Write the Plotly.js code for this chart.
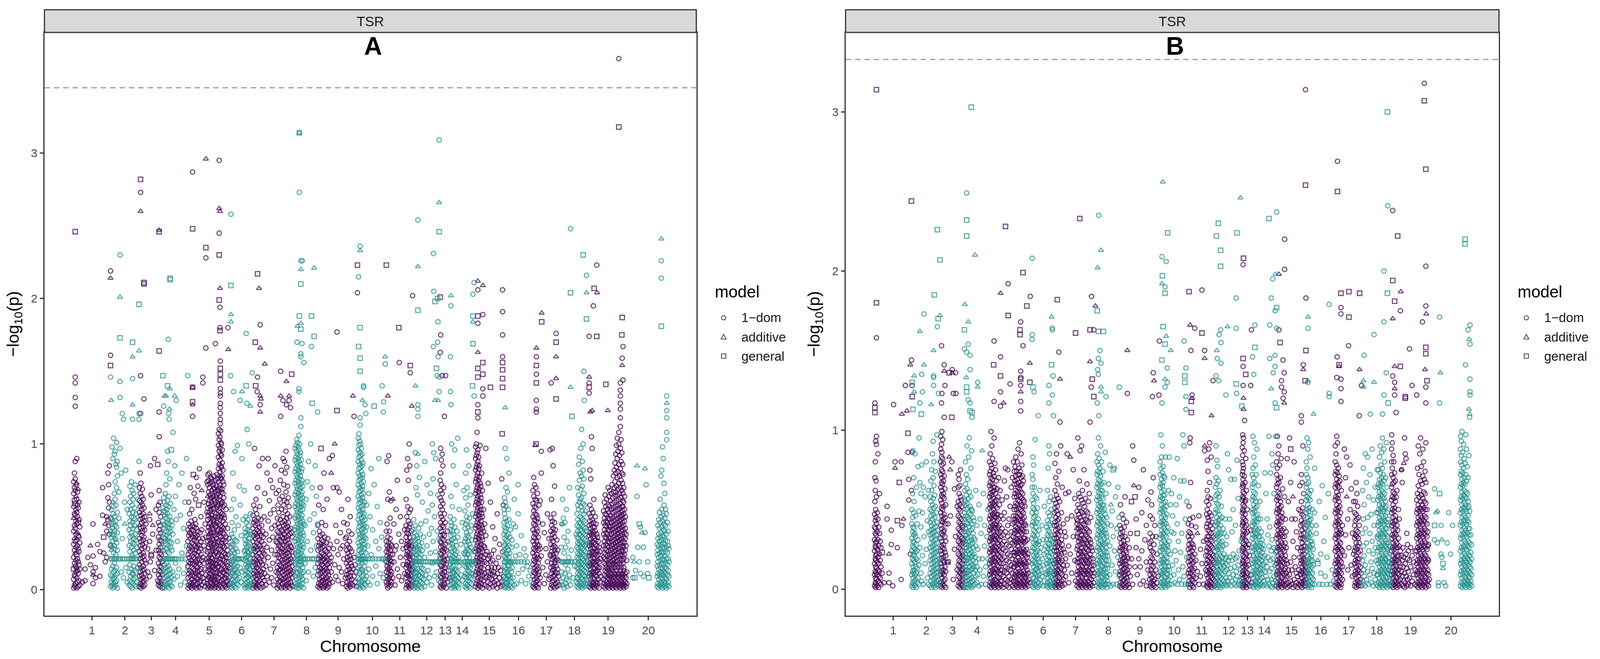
<!DOCTYPE html>
<html><head><meta charset="utf-8">
<script src="https://cdn.plot.ly/plotly-3.0.1.min.js"></script>
<style>html,body{margin:0;padding:0;background:#fff;overflow:hidden}</style>
</head><body><div id="chart"></div>
<script>
// ---------- data ----------
const chromosomes = ['1','2','3','4','5','6','7','8','9','10','11','12','13','14','15','16','17','18','19','20'];
// chromosome lengths (cumulative-position units)
const chromLengths = [98,76,62,66,112,58,112,60,106,74,70,72,26,64,78,76,70,78,100,112];
const modelKeys = ['o','t','s'];
const modelNames = {o:'1\u2212dom', t:'additive', s:'general'};
const legendTitle = 'model';
const panelTitles = ['A','B'];
const stripLabel = 'TSR';
const thresholdA = 3.45;
const thresholdB = 3.33;
// Each string: one chromosome. Groups "pos:tokens"; token = model letter (o=1-dom, t=additive, s=general) + -log10(p)*100
const snpA = [
"1:o01o07s14o22o31o40t49o57o66o74 3:o03o10o18o27t35o44o52s61o70o80 5:s246o146o142o132o126o02o09o16t25o33o42o51s59o68o76o88 7:o04o12o20o29o38o47o55t64o72 9:o01o08o15s24o34o45o53o62t73o90 11:o05o13o21o30t39o50o58o67 13:o02o11o19o28o37s46o56t69 15:o06o17o26o36o48o60 17:o03o14o32o43 24:o05 31:o06o14 38:o22 45:t30o17 52:o45o23o12t10o04 58:o15o08 64:o31 70:o26o09 77:o70o51 80:s36o25 84:t45o19 88:o50o22o40 91:o80o63o48 93:o72o56o44 95:o60o38o85 98:o219t214o161s154o49o30",
"0:o02o10o21o31o40o146 2:o05o14t27o36o45o55t130 4:o03o09o21o29s38o48o98 6:o01o07o16o33o42o52t60o90 8:o04o12o21o25o37o46o57o104 10:o02o08o18o30s40o50o66o93 12:o05o13o21o28o35o44o62o74o95 14:o03o10o24t34o47o58o86 16:o06o15o21o32o43o70o84o101 18:o01o11o27o39o53o88o78 22:o21o49o67 25:o230t201s173o143o132o97o21 28:o12o80 31:o121o21o35 34:o117o08 37:t45o21o60 40:o82o15 44:o21o05o55 49:o03o12o21o30o41o52 51:o06o17o26o36o47o60o71 53:o02o09o21o33s44o55o64 55:o05o14o29o39o50o74 57:o01o11o21t24o37o46o58o68 58:s170o145t160t127o117 59:o04o10o32o42o53o62 61:o07o16o21o27o35s49o66 63:o03o13o31o44o56 65:o08o21o25o38o48o72 67:o02o12o34o52 69:o05o21o29o41 72:o15o62 75:s196t164o121o117o88",
"0:o02o09o17o26o35t44o53o61o70 2:o04o12o21o30t39o48o57o66o80 3:s282o273t260o147o121 4:o01o07o15o24o33s42o51o60o73 6:o03o10o19o28o37o46o55o64 8:o05o13o22o31s40o49o58o69 10:o02o08o16o25o34o43o52o62 12:s211s210o131o06o14o23o36o47o56 14:o03o11o20o29o41o50 17:o07o18o32o45 22:o12o28 27:t52o48o33o09 29:o85o19 31:s24s23o65 35:o38t44 40:o90o13 44:o27o55 48:s86o06 50:o03o10o18o27o36o46o58 52:t247s246s164o122o05o13o22o31o41o53o68o105 54:o02o08o16o25o34o44o60 56:o04o12o21o29o39o50 58:o06o15o24o33 60:o01o10o19",
"0:s147o02o11o20o29o38o47o56 2:o126o05o14o21t27o36o45o54o63 4:t133o01o08o17o33o42o51o60 6:o03o12o21o24o35o44s53o66 8:t133o06o15o31o40o49o58o72 10:o02o09o18o21o28o37o46o55o80 12:s140o04o13o26t34o43o52o61o95 14:o172o07o16o21o30o39o48o57o88 15:o121 16:o117o01o10o25o36o45o64 17:t124 18:t138o05o14o21o33o42o50o76 19:s214s213 20:o03o11o29o40o59 22:o08o21o32o47s96 24:o02o27o44 26:o12o21o38o108 29:o07o55 31:t133o21o85 33:o18o64 35:o130o21o48 38:o09o33 42:o21o72o14 46:o51o03 50:o21o25o80 54:o11o42 58:o21o60o05 62:o30o90 65:o147o15",
"0:o01o08o16o24o33o41 2:o03o11o19o28o37o45o60 4:o05o13o22o30o39o52 6:o02o09o18o26o35o43o70 8:o04o12o20o29o38o47 10:o01o07o15o23o32o41o55 12:o287s248t139s139s129t127o119o03o10o18o27o36o44 14:o05o14o22o31o40s79 16:o02o09o17o25o34o43o66 18:o06o13o21o30o38o48 20:o03o11o19o27o36o45o62 22:o01o08o16o24o33o42o77 24:o04o12o20o29o37 26:o07o15o23o31o40o71 28:o02o10o18o26o35s58 30:o05o13o21o30o83 32:o01o09o17o28o39 34:o06o14o24o33o50 36:o03o11o20o41t68 39:o146o142o08o22o35 42:o05o18o30o60 45:o02o14o27o45 47:t296s235o228o166o10o36 50:o04o21o53o74 52:o01o07o13o19s26o33o40o48o56t64o72o79 54:o03o09o16o22o29o36o43s51o59o67o75 56:o02o08o14o20o31t38o45o53o61o70o80 58:o05o11o17o24o34o41o49o57o65o73 60:o01o07o13o19s26o32o39o46o55o63o77 62:o04o10o16o22o30o37t44o51o60o68o76 64:o02o08o15o21o28o35o42o49o58o66o74 66:o06o12o18o27o34o41o48o56o64o72 68:o03o09o16o24o31o39o47o55o62o70o78 70:o01o07o14o20o29o37o45o53o61o69 72:o169o05o11o18o26o33o43o50o59o67o75 74:o02o09o17o25o35o44o52o63o71 76:o04o12o20o30o38o46o57o65o79 78:o06o15o23o32o40o49o58o68o76 80:o01o08o16o24o33o41o50o58o66o74o83o91o99o107 82:o295t262o245s230s199o03o11o19o28o37o45o54o62o70o78o86o95o103o110 84:t260t207o194o180s178o05o13o21o30o39o48o56o64o72o81o89o97o105 85:s152s148s144o157o138o135o133o128o125o121o117o114 86:o02o10o18o27o36o44o53o61o69o77o85o93o101o109 88:o06o14o23o32o41o50o59o67o76o84o92o100 90:o01o09o17o26o34o43o52o60o69o78o87o96 92:o04o12o21o30o39o47o57o66o74o82 94:o07o16o25o34o42o51o63o72 96:o03o11o20o29o38o49o58 98:o02o08o15o24o33o45 100:o05o13o22o36o55 102:o01o10o19o30 104:o06o16o27o42 105:o180 106:t165o03o12o24 108:o08o19o35 110:o04o15",
"0:o147o02o09o17o25o33 1:o258s209t189t184 2:o04o12o20o29o38o55 4:o01o07o15o23o31o46 6:o03o11o19o27o36o80 8:o136o05o13o21o30o62 10:o02o09o17o25o41 12:o06o14o22o34o95 14:o01o10o18o28o50 16:o04o12o21o33 18:o07o16o26o99 20:o03o11o21o44 23:o08o21o71 25:o130o15o58 28:o05o21o37 30:t136o90o12 33:o21o48 36:o03o26o68 38:o01o07o13o20o27o34o42 40:o04o10o17o24o31o39o50 41:s140o176 42:o02o08o15o22o29o37o46 43:o128 44:o05o12o19o26o33o41o110 46:o01o09o16o23o30o38o48 48:o03o11o18o25o35o44o100 50:o06o14o21o32o40 52:t126o02o10o19o28o52 54:o07o17o27o38 56:o04o13o24 57:o149",
"1:o01o08o16o24o33o42o51 3:o03o11o19o28o37o46o58 5:o05o13o21o30o39o48o97 7:s170o02o09o17o26o35o44o55 8:s140 9:o04o12o20o29o38o47o62 11:o01o07o15o23o32o41o52 12:o136 13:s217o146o03o10o18o27o36o45o70 15:o05o14o22o31o40o49 17:t207o02o09o17o25o34o43o85 19:o06o13o21o30o39o57 20:o182t166t133o127t122 22:t131o01o10o19o28o37o48 24:o04o12o23o33o44 26:o08o17o27o40o90 28:o02o14o25o36 30:o06o20o31o50 32:t155o11o24o66 35:o03o16o38 38:o09o29o80 41:o22o47o90 44:o05o34o61 47:o14o52o75 50:o27o08o42 53:o18o70o36 56:o03o55 59:o24o44o85 62:o12o33o66 65:o01o07o15o24o32o40o49 67:o03o11o19o28o36o45o58 69:o05o13o22o30o39o53o68 71:o02o09o17o26o34o43o62 73:o06o14o21o29o37o48o75 74:o150t133o119 76:o01o08o16o25o33o41o55o82 78:o04o12o20o28o36o46o64 80:o130o07o15o23o31o40o50o90 82:o02o10o18o26o35o44o58o72 84:o05o13o21o30o38o47o61o88 86:o01o08o16o24o33o42o54o80 88:o03o11o19o27o36o45o67o95 89:t143o127 90:o06o14o22o31o40o49o60o84 92:o02o09o17o25o34o43o52o71 94:o04o12o20o28o37o46o63 96:t133o130o07o15o23o32o41o57 98:o01o10o18o27o38o50 100:o05o13o21o30o42o125 102:o03o11o19o29o39 103:s148 104:o08o16o26o36 106:o02o12o23",
"0:o02o09o17o25o33o41o49o57o65o73o81o89o97 2:o04o11o19o21o27o35o43o51o59o67o75o83o91o99 4:o01o07o15o23o31o39o47o55o63o71o79o87o95o103 5:o170 6:t181o03o12o20o29o37o45o53o61o69o77o85o93o101 8:o05o14o21o26o34o42o50o58o66o74o82o90o98 10:o138o136o01o08o17o24o32o40o48o56o64o72o80o88o96o106 11:t314s314o273s188 12:o03o10o19o28o36o44o52o60o68o76o84o92o100 14:o06o13o22o30o38o46o54o62o70o78o86o94 15:o226t220s210s179o162o160t183o118o112 16:o02o09o17o21o25o33o41o49o57o65o73o81o89 18:o169o04o11o19o27o35o43o51o59o67o75o83 19:o226 20:o07o15o23o31o39o47o55o63o71 22:o01o12o21o29o37o45o58 23:o156 26:o21o18o44 29:o06o62 32:o21o74o33 35:o88o12 38:o21o48 41:o100o27 43:s188o167 45:s128o21o70 48:o39o09 50:t221s174o21o52 53:o85o15 56:o21o30o64 59:o122o45",
"0:o02o10o18o27o35o44 2:o04o13o21o30o58 4:o01o07o15o23o32o40 6:o03o11o19o28o37o70 8:o05o14o22o31s97 10:o02o08o17o25o34o46 12:o06o12o20o29o38 14:o01o09o16o24o33o55 16:o04o13o21o30o80 18:o02o07o15o23o36 20:o05o11o19o27o44 22:o03o14o22o32 24:o01o08o17o26o62 26:o06o12o20o35 28:o02o10o18o28 30:o04o15o24o90 32:o07o19o31 35:o22t80o12 38:o92o05 41:o70o28 44:o17t100 47:o09o44 50:o177s123o33o70 53:o24o06 56:o67o15 59:o39o28 62:o12o55 65:o30o04 68:o21o46 72:o08o35 75:o02o10o18o27o36 77:o05o13o22o31o45 79:o01o08o16o25o62 81:o03o11o20o29o40 83:o06o14o23o33 85:o02o09o18o28o50 87:o04o12o21 89:o07o16o26o38 92:t133o03o14 95:o119o09o22 98:o05o17 101:o02o12 104:s223o204",
"0:o02o08o15o21o24o32o40o48o56o64o72o80o88o96o104 1:o215s167 2:o04o11o19o27o35o43o51o59o67o75o83o91o99o107 4:o01o07o16o21o23o30o38o46o54o62o70o78o86o94o102 5:o236t233s180s159s150o118o113 6:o03o12o20o28o36o44o52o60o68o76o84o92o100 8:o05o14o21o25o33o41o49o57o65o73o81o89o97 10:o02o09o18o29o37o45o53o61o69o77o85o93 11:t130 12:o06o13o21o23o31o39o47o55o63o71o79o87 14:o140o139o01o10o26o34o42o50o58o66o74 16:o04o16o21o28o36o44o52o60 18:o127o07o19o31o40o48 20:o121o03o21o12o25o35 22:o09o43o58 25:o21o05o30 28:o14o66 31:o21o50o03 34:o24o83 38:o21o09o41 42:s126o72 46:o21o33o16 50:o57o04 54:o21o28o90 58:o11o46 62:o21o36 63:o140 66:o122o08 67:o129o21 71:t160o155o20",
"0:s223o05o12o19o26o33o40 2:o03o09o16o23o30o45o88 4:t133o01o07o14o21o28o36o62 6:o04o11o18o25o32o92 8:o02o08o15o22o29o40o67 10:o06o13o20o27o35o49 12:o03o10o17o24o31o61 14:o05o12o19o30 17:t62o08o24 20:o45o19 23:o27o03 26:o30o55 29:o14o75 33:s180o09o38 34:o156 37:o22o50 40:o06o33 44:o17o28 48:o41o11 52:o01o08o15o22o29o36o44o62 54:o03o10o17o24o31o39o50o82 56:o05o12o19o26o33o41o57o90 58:o02o09o16o23o30o38o47o75 60:o04o11o18o25o32o43o53o100 62:o01o07o14o21o28o36o45o85 63:o149s154 64:o03o10o17o24o33o55 66:o06o13o20o29o40 67:t126o02o09o18o30 69:o202o05o14o22",
"0:o03o10o18o25o33o41 2:o06o13o19o28o36o48 4:o01o08o15o22o30o39 6:o04o11o19o26o34o44o94 7:t140 8:o02o09o17o24o31o70 10:o05o12o19o21o29o37o85 12:o01o07o14o27o35o65 13:o254t222s192o127o124o119t93 15:o03o10o19o25o33o42 17:o06o13o22o30o77 19:o02o09o17o19o28o38 21:o05o12o24o45 23:o01o08o15o19o32 25:o04o11o27o60 28:o07o19o14o36 31:o02o22o88 34:o10o19o47 37:o05o30o72 40:o19o13o54 43:o08o38 46:o19o25o66 49:o03o42 51:o19o18o58o100 53:o33o76 54:o231o167 55:o205o94 57:o19o09o50 58:t130s198 60:o26o90 62:s152o19o12 64:o147o40 65:s200o170 66:o184o160t130o19o65 68:o06 69:o309t266s246o136o35 70:o146o19o22",
"0:s201o163o02o09o17o25o33o42o52o63o75 1:o175o05o13o21o29o37o46o57o68o80o97 3:o01o08o16o24o32o40o50o61o72o89 5:o147o03o11o19o27o35o44o55o66o93 7:o06o14o22o30o38o48o59o85 9:o02o10o18o26o34o43o70 11:o04o12o20o28o37o52o119 13:o07o15o23o31o46 14:o147 16:o01o09o17o27 19:o05o21o40 22:o13o33 25:o08",
"0:o03o10o17o24o32o41o50 1:o160o136 2:t202o195o127o06o13o19o21o28o37o46o64 4:o01o08o15o26o34o44o100 6:o04o11o19o23o31o40o57 8:o02o09o16o29o38o85 10:o05o12o19o22o35o48 12:o01o07o14o27o43o96 14:o03o10o19o24o33 16:o06o13o21o30o72 18:o02o09o19o26o40 20:o05o12o36o104 22:o01o08o19o22 24:o04o16o55 28:o19o10o31 32:o46o06 36:o19o25o68 39:o02o09o16o24o33o42o54 41:o04o11o19o26o35o45o63o80 43:o01o08o15o22o30o39o50o96 45:o03o10o17o19o28o37o47o70 47:o06o13o24o33o43o58 49:o02o09o16o19o27o36o85 51:o05o12o22o31o49 53:o01o08o15o19o26o40o65 55:o04o11o29o44 57:o07o19o17o34 59:s140o52 60:s188t184s169o203o19o11 62:o26 63:o211o133o19",
"3:o02o10o18o26o34o42o50o58o66o74o82o90o98 5:o04o12o20o28o36o44o52o60o68o76o84o92o100 7:o06o14o22o30o38o46o54o62o70o78o86o94o108 9:t212o206s188o183t163s152s146o127s122o118o01o08o16o24o32o40o48o56o64o72o80o88o96 11:o03o11o19o27o35o43o51o59o67o75o83o91 13:o05o13o21o29o37o45o53o61o69o77o85 15:o02o09o17o25o33o41o49o57o65o73o99 17:o07o15o23o31o39o47o55o63o71 19:o04o12o20o28o36o44o52o60o80 21:o01o10o18o26o34o42o50o68 22:t209o189s156s148o138o133 24:o06o14o22o30o40o55 27:o03o11o19o29o45 30:o08o24o37o97 33:o02o09o18o26 36:o05o12o15o21o73 39:o01o08o23 42:s139o04o11o19o60 45:o07o13o15o24 48:o02o10o20o43 51:o05o12o27 54:o03o09o15o35 57:o06o18 60:o01o11o52 63:o04o15o22 66:o08o31 69:o02o13 72:o05o76 73:s107 74:o206o191o175o160s156s151s145s139o03o26 76:o09o58",
"0:o02o09o16o19o23o30o38o46o55 1:o05o12o27o35o43o52o63 3:t125o01o08o15o19o22o31o40o49o60o97 5:o04o11o25o34o42o57o70 7:o02o07o14o19o21o29o37o47o90 9:o05o12o24o33o44o67 11:o01o09o16o19o27o38o55 13:o03o10o22o30o48o80 15:o06o14o19o25o36 17:o02o08o18o41 19:o05o12o19o29 21:o01o15o34 24:o08o19o45 27:o03o62 30:o19o23o43 33:o04o30 37:o19o11o52o72 41:o24 45:o19o06o37 49:o14 53:o19o28 57:o04o23 61:o19o16 65:o09 69:o13 73:o05",
"0:o02o09o17o25o33o41o50o59o68 2:o04o12o20o28o36o45o54o64o77 4:o01o07o15o23o31o39o48o57o72 6:o03o11o19o27o35o44o52o62t99 8:o05o13o21o29o38o47o56o70s100 9:t166o160s154o148s142o130o124o122 10:o02o08o16o24o33o42o51o61 12:o06o14o22o31o40o49o66 14:o01o10o18o27o36o46 16:o04o12o21o30o58 19:o08o28o61 22:o95o80o23 23:t190s184 26:o45o15 30:o39o04 34:o28o10 38:o52o19 42:o07o35 45:o96o24 47:o01o08o15o23o31o40o49 48:o142 49:o03o11o18o26o35o44o62 51:o05o13o21o29o38o47o97 53:o02o09o16o24o33o42o85 55:o06o14o22o30o39o52 57:o01o10o18o27o36o46o71 59:o04o12o20o29o41 61:o176s170t160t145s131o07o16o25 63:o02o11o21o34 65:o05o14o27 67:o09o20 69:o03",
"4:o05o19o29 6:o12o45 8:t45o03o19o62 10:o08o49 12:o01o19o25o36 14:o11o46 16:o04o19o29o17 18:o07o55 20:o02o19o33 22:o14o40 24:o06o19o22 26:o10o70 29:o248s204t139o19o03 31:o27 33:s119o19 36:o08 40:o19o16 44:o05o38 46:o02o08o15o22o29o36o44o52 48:o04o11o18o25o32o40o48o58o70 50:o01o07o14o21o28o35o43o55o65o86 52:o03o10o17o24o31o38o46o60o75o91 54:o05o12o19o26o33o41o50o62o80 56:o02o08o15o22o29o37o45o57o69o97 58:o04o11o18o25o32o40o49o63o78o110 60:o01o07o14o21o28o36o44o54o71o88 62:s230o03o10o17o24o31o39o48o59o82o100 64:o150o06o13o20o27o35o43o52o66o76 65:o130 66:o02o09o16o23o30o38o47o58 68:o04o12o19o26o34o42o54 70:o07o15o22o31o40 71:o216t204s186 73:o03o11o20o33 75:o06o17o28 77:o09",
"0:o174t146o142s139o135o02o09o16o23o30o37o44o52 2:o04o11o18o25o32o39o47o58o82 3:t122 4:o01o07o14o21o28o35o42o50o76 6:o03o10o17o24o31o38o45o55o105 8:t123o05o12o19o26o33o40o48o97 10:o02o08o15o22o29o36o43o53 11:o195 12:o04o11o18o25o32o39o46o62 13:s207 14:o01o07o14o21o28o35o43 16:o03o10o17o24o31o40o50 18:o05o12o19o26o34o45 20:o223s174o02o09o16o23o30o38 21:t204 22:o04o13o20o27o36 24:o07o15o24o33 26:o01o11o19o29 28:o05o15o26 30:o09o21 38:o02o07o22o30o38o46o54 40:o04o10o18o25o33o41o49o60 42:o01o06o13o21o28o36o44o52o65 44:s141o03o09o15o17o24o31o39o47o57 46:o05o12o20o27o35o43o51o62 48:o02o08o14o23o30o38o46o55 49:t123 50:o04o10o18o26o33o41o49o58o70 52:o01o07o13o15o21o29o36o44o53o64 54:o03o09o17o24o32o40o48o57o68 56:o05o11o19o27o35o43o51o61 58:o02o08o14o22o30o38o46o55o66 60:o04o10o15o17o25o33o41o49o59o72 62:o01o06o13o20o28o36o44o53o63 64:o03o09o18o23o31o39o47o56o67o78 66:o05o11o21o26o34o42o50o60o70o82 68:o02o08o15o17o24o29o37o45o54o64o74o87 70:o04o10o19o27o32o40o48o57o67o80o93 72:o01o06o13o22o30o35o43o51o61o71o84o99 74:o03o09o17o25o33o38o46o55o65o77o90o104 76:o05o11o15o20o28o36o41o49o58o69o81o95 78:o365s318o02o08o23o31o39o44o52o62o73o86o100o108 80:o04o10o18o26o34o42o47o56o66o78o92 82:o01o06o13o21o29o37o45o50o59o70o83o97o112o118o124o128o133o137o142 84:o03o09o15o17o24o32o40o48o53o63o75o88o103 86:s175o05o11o20o27o35o43o51o57o68o80o94 87:s187o159t154 88:o02o08o23o30o38o46o54o61o73o86 89:o167o144o04o10o18o26o33o41o49o57o66o79 91:o01o06o13o15o21o29o36o44o52o60o70 93:o03o09o24o32o39o47o55o64 95:o05o11o27o35o42o50 97:o02o08o30o38 99:o04o12o20",
"15:o08o22 18:t19 20:s08 22:o13 26:t85o64 28:o29 32:s45o19 35:o43o11 39:t39 43:o29o09 47:t83o39 50:o72 54:o19o11 57:s08 79:o02o09o16o24o31 81:o04o11o19o27o35o44 83:o01o07o14o22o30o38o48 85:o03o10o17o25o33o42o53 87:o05o12o20o28o36o46o62 89:o02o08o15o23o31o39o50o78 90:t241o226o214s181 91:o04o11o18o26o34o43o55o82 93:o01o07o14o21o29o37o47o98 95:o03o10o17o25o32o41o51o90 97:o05o12o20o28o36o45o58o73 99:o02o08o15o23o31o40o49o66 101:o04o11o18o26o34o44o55 103:o01o07o14o21o29o38o52 104:o133t128o123o118o108o103 106:o03o10o17o25o33o46 108:o05o13o21o30o40 110:o02o09o19o28"
];
const snpB = [
"0:o02o09o16o24o31o39o47 1:o117s114s111o55o70 2:o04o11o19o27o35o43o62o80 3:o01o07o14o21o29o38o50o93 4:o03o10o18o26o34o45o68 5:s314s180o158o06o13o22o30o41o58o96o91 7:o02o09o17o25o36o48 9:o05o12o20o31o44o85 11:o01o08o16o27o39 13:o04o11o22o35o60 15:o07o18o30 17:o03o14o26 20:s23o10 25:o04 33:o52o44 38:t22o10o04 44:o37o28 48:o02 50:o116 54:o80t76 60:s43o26 65:s67 70:o80o06 72:t110o40 76:t44 81:o128 85:t112 88:s98o86 90:o56o69 94:t141o22 97:s244o144o62 99:o128s121o86",
"0:o02o09o16o24o32o41o50 1:s130 2:o04o11o19o27o36o45o60 3:s113o01o07o14o22o30o39o87 5:o03o10o18o26o34o48o70 6:t134t124o05o12o21o29o38o55 8:o02o09o17o25o35o85 10:o06o14o23o33o46 12:o01o10o19o28o64 14:o04o13o24o41 16:o07o18o31o77 19:o03o15o49o95 21:t162o117o26o67 24:o10o39o60 25:s110 26:o135o05o78 28:o124o21o48 30:o03o64 32:o173t141o33 35:o16o58 38:o25o80 41:o07o43 44:o03o36o62 48:o02o10o18o26o34o42o50o58 50:o05o13o21o29o37o46o55o68 51:t116 52:o01o08o16o24o32o40o49o62o75 54:o03o11o19o27o35o44o53o85 56:o06o14o22o30o38o47o57o70o93 57:t150o128o134o133 58:o02o09o17o25o33o41o51o65o80 59:s185 60:o04o12o20o28o36o45o59 62:o01o07o15o23o31o39o52o74 64:o03o10o18o26o34o48 66:o05o13o21o29o42o97 67:s226o165o08o16o37 69:s170o02o11o24 70:o123o06 72:o19o32 74:s207t172o04o12o80",
"0:o02o09o16o24o32o40o48o56o64o72o80o88o96 2:o153o117o04o11o19o27o35o43o51o59o67o75o83o91 3:o123o01o07o14o22o30o38o46o54o62o70o78o86o99 5:o03o10o18o26o34o42o50o58o66o74o82o94 7:o05o12o20o28o36o44o52o60o68o79 9:o141t137o108o02o09o17o25o37o47o57o71 11:o128o06o14o23o33o45o63 13:o01o11o21o30o41o53 17:t17 19:s17o41 22:s136t83 25:o46t75 29:s108o80 30:o138t136 33:o123o06 36:o63o25 39:o136o33 40:o123 43:o12o52 46:o02o08o15o22o30o38o46o55o64o72 48:o04o11o18o26o34o42o50o60o69 50:o01o07o14o21o29o37o45o53o65 52:o03o10o17o25o33o41o49o58o75 54:o05o12o20o28o36o44o56 56:o02o09o16o24o32o40o52 58:o06o13o21o29o39 60:o01o10o18o31",
"0:s163o151o02o09o16o24o32o40o48o56 1:t179o05o12o20o28o36o44o53o62 3:o01o07o14o22o30o38o46o55o66o80 5:t133o03o10o18o26o34o42o50o59o72 6:o249s232s222o149s127s124 7:o05o12o20o28o36o45o54o63o90 9:o01o08o16o24o32o41o51o69 10:t168o154o119 11:o03o11o19o27o35o44o57o83 13:o06o14o22o30o39o48o61o95 15:o147o138s112o117o02o09o17o25o33o43o52 17:o04o12o20o28o37o47o58o76 18:s303 19:o01o07o15o23o31o41o50o87 20:s111o108 21:o05o13o21o29o38o49 23:o02o10o18o26o35o45 25:o06o14o22o32o43 28:t210o03o12o20o31 30:o08o17o27o62 33:o04o14o40 35:o130t127o09o25 38:o02o19o53 41:o44o12 44:o35o03 47:t87o19 50:o60o08 53:o27o40 56:o14o03 59:o33 62:o19o50 65:o07",
"0:o02o09o16o23o30o37o44o51o58o65o72o80 2:o04o11o18o25o32o39o46o53o60o67o74o85 4:o01o07o14o21o28o35o42o49o56o63o70o78o99 6:o03o10o17o24o31o38o45o52o59o66o76o90 8:o05o12o19o26o33o40o47o54o61o69o82 10:o02o08o15o22o29o36o43o50o57o64o73 11:s141 12:o156o118o04o11o18o25o32o39o46o53o62o71o95 14:o01o06o13o20o27o34o41o48o55o64o79 16:o03o10o17o24o31o38o45o52o60o75 18:o05o12o19o26o33o40o47o56o68 20:o02o08o15o22o29o36o43o51o63 22:o04o11o18o25o32o39o47o58 24:o01o07o14o21o28o35o44o70 26:o03o10o17o24o31o40o53 28:o05o12o20o27o36o62 29:t186o146s134o124o115 30:o02o09o16o23o33o46 33:o05o12o19o28o38o56 36:o01o08o16o25o34o44 37:t117 39:o03o11o20o30o48o68 42:s228o06o14o24o36o76 45:o02o10o18o28o58 48:o05o13o22o33o40o75 49:o192s172 51:o01o08o17o27o44 54:o129o04o12o21o31o52 57:o06o15o25o36o64 60:o02o10o19o29o41o70 63:o05o14o23o33o46o80 65:o01o07o14o21o28o35o42o50o58o66o74 67:o03o09o16o23o30o37o44o52o60o68o77 69:o05o11o18o25o32o39o46o54o62o71o83 71:o02o08o15o22o29o36o43o50o58o66o74 73:o04o10o17o24o31o38o45o53o61o69o80 75:o01o06o13o20o27o34o41o48o56o64o72o88 77:o03o09o16o23o30o37o44o51o59o67o76 79:o05o11o18o25o32o40o47o55o63o72o92 80:s163s160 81:o02o08o15o22o29o36o43o50o58o65o74 82:o168o137o133s132o128t124o118o112 83:o04o10o17o24o31o38o46o53o61o70o85 85:o01o07o14o21o28o35o42o49o57o66o78 87:o03o09o16o23o30o37o44o52o60o71 88:s199o153 89:o05o11o18o25o32o40o48o56o68 91:o02o08o15o22o29o36o45o55 93:o04o10o17o24o32o41o52 95:o01o07o14o21o30o40 97:o03o09o16o25o36 98:s178 99:o05o12o20o31 101:o02o10o22 103:o06o17 106:s130t142o04 107:o184",
"0:o208o160o157o02o09o16o24o32o40o48o56o64o72 2:s127o04o11o18o26o34o42o51o60o69o83 4:o01o07o14o21o29o37o45o54o78 5:o124 6:o03o10o17o25o33o41o50o64 8:o05o12o20o28o36o46o58o94 10:o02o09o16o23o31o39o48 12:o06o13o21o29o42o57 14:o01o08o15o24o34o51 16:o109o04o11o19o28o44 18:o02o09o17o30o37 20:o06o14o23o62 23:o03o12o26 26:o08o19o40 29:o02o15o31 32:o05o22o52 35:o10o27 38:o02o09o16o23o31o39 40:o04o11o18o26o34o43o62 42:o01o07o14o21o29o37o48o76 44:o128o117o03o10o17o25o33o41o55o90 46:o05o12o20o28o36o46o85 48:o02o08o15o23o31o40o58 50:o04o11o18o26o34o50 51:t171s141 53:o164o163o122o01o07o14o22o30o44 55:o134o03o10o18o29 56:o109 57:o06o16",
"0:o02o09o16o24o32o40o48o56 2:o04o11o18o26o34o42o51o62o79 4:o01o07o14o21o29o37o45o54o70 6:o03o10o17o24o32o40o49o59o85 8:s182o05o12o19o27o35o43o52o66 10:o02o08o15o22o30o38o47o57 12:o149o04o11o18o26o34o44o74 14:o01o07o14o21o29o39o55 15:t132o105 17:o03o10o17o25o36o90 19:o05o13o22o31o48 21:o02o09o18o28o64 24:o06o15o25o41 27:o03o12o23o36 30:o08o19o33o60 34:o15o44o85 38:o04o27o61 42:t83o22 46:o10o46 50:o75o33 54:o18o57 56:s161o05 59:o44t38 60:o02o09o17o25o33o41o49 62:o04o11o19o27o35o43o53o95 64:o01o07o14o22o30o38o47o60 66:o03o10o17o24o32o40o51o68 67:s233 68:o05o12o20o28o36o45o58o87 70:o02o08o15o23o31o39o49 72:o04o11o18o26o34o43o56o90 74:o01o07o14o21o29o37o48o62 76:o03o10o17o24o32o41o54 78:o05o12o20o28o36o46o75 80:o02o09o16o23o31o40o52 82:o04o11o18o26o34o44o57 84:o01o07o14o21o29o38o49 86:o03o10o17o25o33o43o66 88:o05o12o20o28o37o48 90:o02o09o16o24o32o42o55 92:o04o11o18o27o36o60 94:s163t143o105o01o07o14o22o31 96:o03o10o19o29o45 97:o127 98:o184o06o15o26 100:s132o02o12o24 102:o08o19 104:o163s121o04o15 106:o10 108:t178",
"0:o02o09o16o24o32o40o48o56o64o72o80 1:s175o117 2:t202o138o04o11o18o26o34o42o50o58o66o74o85 4:s162o145o135o01o07o14o21o29o37o45o53o61o69o78o95 5:o235o109 6:o03o10o17o25o33o41o49o57o65o73o82 8:o150o05o12o20o28o36o44o52o60o68o76 10:o02o08o15o22o30o38o46o54o62o71o90 11:t213o142t127t124 12:o04o11o18o26o34o42o50o58o66o80 14:o01o07o14o21o29o37o45o53o62 16:o03o10o17o25o33o41o49o57o74 17:s162 18:o05o12o20o28o36o44o53o67 20:o02o09o16o24o32o40o50 22:o06o13o21o29o37o47o86 24:o121o03o10o18o26o35o60 26:o01o08o15o23o33o45 28:o05o13o21o30o41 31:o03o18o66 34:o09o27o78 37:t53o02o40 40:o15o49 43:s75o03o33 46:o76o24 49:o11o58 52:o03o38 55:o20o64 58:o08o45 59:o127",
"0:o02o09o16o24o32o40 2:o04o11o18o26o35o53 4:o01o07o14o21o29o38 6:o03o10o17o25o33o47 8:o05o12o19o27o36 10:o02o08o15o22o30o44 12:o06o13o20o28o39 14:o01o09o16o24o33o58 16:o04o11o18o27 18:o02o07o15o23o42 20:t150o123o05o12o20o31 22:o03o10o19 25:o01o14o26 28:o08o35 31:s55o19 34:o90o03 37:o81t65 40:s58o14 43:o44o26 46:s35o09 50:o19o64 54:o14o03 58:o48o24 62:o75o05 66:o31 70:o02o17o40 74:o12o56 78:o06o29 80:o02o09o17o26o35o46 82:o04o12o20o30o61 84:o01o07o15o24o53 86:o121o03o10o19o33o44 88:o136o05o14o23o70 90:t131o02o09o28 92:o06o17o40 95:o01o12o33 98:o04o22 101:o08 103:o122 104:o156",
"0:o02o09o16o24o32o40o48o56o64o72o80 2:o04o11o18o26o34o42o50o58o66o76o97 4:o01o07o14o21o29o37o45o53o61o69o83 5:o209t192s144o117 6:s197o03o10o17o25o33o41o49o57o65o73o90 7:t256 8:s165o05o12o19o27o35o43o51o59o67o77 10:o02o08o15o22o30o38o46o54o62o71 12:o04o11o18o26o34o42o50o59o70 13:o190s186s154t132o127 14:o01o07o14o21o29o37o45o55o83 16:o206t159o03o10o17o25o33o41o52 18:o05o12o20o28o36o47 19:o139o130 20:s224o02o09o17o27o39 22:o06o14o24o62 24:o03o12o30o83 27:o08o22o53 28:t150 30:o03o36o60 33:o15o46 36:o09o35o70 39:o04o24 42:o18o53 45:o03o41o82 48:o12o30 51:o06o58 54:o23o68 57:o03o35 60:o14o97 63:o156o08o68o90 65:s134s130 66:o03o44 68:o139o121o113 70:o20o55 73:o03",
"0:o03o10o17o25o33o41 2:s187o05o12o20o28o36o52 4:o01o08o15o23o31o44o92 5:t166o95 6:o03o10o18o26o35o67 7:o150 8:s111s118o06o13o21o29o40 10:o122t120o02o09o16o24o33 12:o05o12o20o28o45 14:o01o08o17o26 17:o164o04o13o22 20:o07o18o39 24:t35o11 28:o46o03 32:o25o08 36:o188s161o16 40:o03o30 43:o150t145t90o87 46:o12o21 48:o02o09o16o24o31o39o47o55 50:o04o11o18o26o33o41o50o62o81 52:o01o07o14o21o29o37o45o58o74 54:o03o10o17o25o33o43o53o88 56:o05o12o20o28o36o48o67o92 58:o02o08o15o23o31o40o57 60:o04o11o19o27o35o46o83 61:t109 62:o01o07o14o22o30o42 64:o03o10o18o26o38 65:o131 66:o06o13o21o33 68:o02o09o17 70:o05",
"1:o02o09o16o24o32o40o48o56o64 3:o134o04o11o18o26o34o42o50o59o70o90 4:s222 5:t150o01o07o14o21o29o37o45o54o66o81 6:o145 7:o03o10o17o25o33o41o49o60o77 9:s230o05o12o19o27o35o43o53o68 10:o131 11:o160o02o08o15o22o30o38o47o58 13:o04o11o18o26o34o44o62 15:s213s203o163o01o07o14o21o29o40 16:o155o142 17:o03o10o17o25o35o52 19:o06o13o20o30o45 21:o02o09o17o27o38 24:o05o14o22o35 27:o03o11o19o44 29:o122o07o16o28 31:o02o12o20o33 33:t165o05o15o85 36:o03o10o18o75 39:o07o20o44 42:o02o13o69 45:o05o18o36 48:o09o22o50 51:o03o14o69 54:o06o19o40 56:o183o164s129o02o11 57:o123 58:s224o08o20o81 61:o03o15o57 64:o05o24 67:t246o02o12 69:o06o30 71:s115o04",
"0:o02o09o16o24o32o40o48o56o64o72o80o89 1:o04o11o18o26o34o42o50o58o66o74o84o97 2:o204s145o140o128o01o07o14o21o29o37o45o53o61o69o78o92 3:s208t120t113o03o10o17o25o33o41o49o57o65o76o95 5:o05o12o20o28o36o44o52o60o71o87 6:o106 7:o02o08o15o23o31o39o47o55o67 9:s135o04o11o19o27o35o43o56o82 11:o01o07o14o22o30o40o62 13:o03o10o18o26o36o50 16:o06o15o28 19:o02o21 22:o128o09o37 24:o163o04",
"0:o02o09o16o24o32o40o48o56o64o72 1:o146 2:o04o11o18o26o34o42o50o58o66o76o96 4:o135o01o07o14o21o29o37o45o53o61o70o83 6:o03o10o17o25o33o41o49o57o67o92 7:o166s152 8:o05o12o19o27o35o43o51o60o78 10:o02o08o15o22o30o38o46o55o72 12:o04o11o18o26o34o42o52o88 14:o01o07o14o21o29o37o47 16:o03o10o17o25o33o44o65 18:o05o12o19o27o38 20:o02o09o16o24o33o55 22:o06o13o21o29o44 24:o03o10o18o26o36 26:o07o15o23o31 28:o02o12o20o28 30:o05o16o25 33:o03o11o21o73 36:o08o17o60 39:o02o14o44 41:o06o20o34 44:s233o03o27o96 46:o166o145o11o39 48:o02o18o73 50:o183t126o06o24 52:o01o13o31o85 54:o195o04o19o78 55:o136 57:o08o26o60 60:o175o147o140o117o02o15 61:t198 62:o05o23o96 64:o237o164s177s114o10",
"0:o02o09o16o24o32o40o48o56o64o72o80 2:o04o11o18o26o34o42o50o58o66o76o96 4:o01o07o14o21o29o37o45o53o61o69o85 6:t198o163o03o10o17o25o33o41o49o57o67o90 8:o05o12o19o27o35o43o51o60o78 9:s155 10:o02o08o15o22o30o38o46o55o70 12:o04o11o18o26o34o42o52o82 13:o127o131 14:o01o07o14o21o29o37o48 16:o03o10o17o25o33o45o63 17:o144o120 19:o05o12o19o27o38 20:o136o124t117 21:o220o201o02o09o16o24o33o58 23:o06o13o21o29o44 25:o03o10o18o26o36 28:o01o08o16o82 31:o04o12o55 34:o02o09o95 37:o05o17o67s88 40:o03o12o44 43:o01o30t58 46:o06o20o80 49:o02o14o44 52:o04o10o36 55:o01o08o26 58:o03o12o50 61:o05o20o65 63:o02o09o16o24o32o40o49 65:o109o105o04o11o18o26o34o43o55o72 67:o01o07o14o21o29o37o47o67 69:o03o10o17o24o32o41o51o90 70:o141t138 71:o05o12o19o27o35o46o60 73:o02o08o15o22o31o42 75:s131o04o11o18o27o38 76:o314s254o06o14 77:o183s150o02o10",
"0:o02o09o16o24o32o40o48o56o64o72o80 2:o04o11o18o26o34o42o50o58o66o76o95 4:t131o130o01o07o14o21o29o37o45o53o61o70o88 5:t171o164 6:o03o10o17o25o33o41o49o57o67o92 8:o05o12o19o27o35o43o51o60 10:o02o08o15o22o30o38o46o56o83 12:o04o11o18o26o34o44o62 14:o01o07o14o21o30o40 16:o03o10o18o28o50 18:o06o15o25 19:t110 22:o03o76o48 26:o40o35 30:t18s16 34:o03o55 38:o22o10 42:o65o03 46:o30 50:o08o45 54:o03o20 58:o60 60:o179o123o121 63:o03 68:o12 72:o05",
"0:o02o09o16o24o32o40o48o56o64o72o80o90 2:o04o11o18o26o34o42o50o58o66o74o85 4:o133o01o07o14o21o29o37o45o53o61o69o78o96 5:o146 6:o269s250o03o10o17o25o33o41o49o57o65o73o92 8:o05o12o19o27o35o43o51o59o67o76 10:s141t140o02o08o15o22o30o38o46o55o64o71 12:o04o11o18o26o34o42o52o68 14:o01o07o14o21o29o37o48 15:s186o177o173o132o126o118 16:o03o10o17o25o35o62 19:o06o14o24o40 24:o21o88 27:o70o34 30:o83t58 33:o44o12 35:o153 36:s187s171o26 39:o78o50 42:o15o63 45:o35o08 48:o55o22 51:o02o09o16o24o32o40o48 53:o04o11o18o26o34o43o55 55:o01o07o14o21o29o37o47o67 57:o03o10o17o25o33o44o60 59:o05o12o19o27o36o52 61:o02o08o15o23o32o45 63:o109o04o11o19o29o40 64:s186t138 66:o06o14o24 68:o02o10 69:o128",
"2:o05o18o35o62 4:t131t127o03o12o27o44o76 6:o147o08o21o53 9:o02o15o38o85 12:o06o29o67 15:o11o45o83 18:o03o24o58 21:o09o35o72 22:o110 24:o04o17o47 27:o13o30o88 30:o02o22o56 32:o160t130o10o40 35:o06o26o64 38:o03o18o48 40:o09o33o75 42:o02o09o16o24o32o40o48o56o64 44:o04o11o18o26o34o42o50o58o66o75 46:o01o07o14o21o29o37o45o53o61o69o83 48:o03o10o17o25o33o41o49o57o65o73o90 50:o05o12o19o27o35o43o51o59o67o78 52:o02o08o15o22o30o38o46o54o62o70o86 54:o110o04o11o18o26o34o42o50o58o66o76o95 56:o01o07o14o21o29o37o45o53o61o72 58:o200o168o122o03o10o17o25o33o41o49o57o68o88 60:o05o12o19o27o35o43o51o60o80 62:o02o08o15o22o30o38o46o55o70 64:o136o04o11o18o26o34o42o52o92 66:o01o07o14o21o29o38o48o64 67:s300s186 68:o241o03o10o17o25o33o44 69:s117 70:o05o12o20o29o40 72:o02o09o17o27 74:o06o14o24 76:o03o11",
"0:o02o09o16o24o32o40o48o56o64o72o80o88o97 2:o04o11o18o26o34o42o50o58o66o76o92 3:o238s194t170o134 4:o01o07o14o21o29o37o45o53o61o70o84 6:o03o10o17o25o33o41o49o57o67o80 8:s181o130t140t126o122o05o12o19o27o35o43o51o60o73 10:o02o08o15o22o30o38o46o55o68 12:o111o04o11o18o26o34o43o58 14:o01o07o14o21o29o40o62 16:s222o03o10o18o26o37 18:o05o12o21o32o50 20:o02o09o17o27o44 23:o175s140o06o14o24 24:t187 26:o03o11o21o75t75 28:o08o18o67 30:o02o14o26 32:o05o20t79 34:o01o10o95 36:s121s120o04o16o85 38:o08o22o82 40:o02o13o35 42:o06o19o28 44:o03o11o24 47:o151o07o18 50:o02o14o26 54:o128o05o21 58:o09o17 62:o03o12o24 66:o122o02o09o16o24o32o40o48o56 68:o04o11o18o26o34o42o50o60o76 70:o01o07o14o21o29o37o45o53o65o90 72:o03o10o17o25o33o41o49o58o72 74:o05o12o19o27o35o43o51o62o85 76:o02o08o15o22o30o38o46o55o68o95 78:o04o11o18o26o34o42o50o59o77 80:o01o07o14o21o29o37o45o53o66 81:o168 82:o03o10o17o25o33o41o49o57o71o88 84:o05o12o19o27o35o43o51o61o80 86:o318s307o02o08o15o22o30o38o46o55o69 88:t138o04o11o18o26o34o42o50o60o74 90:s264o203o178s152s148o127o117o01o07o14o21o29o37o45o54o67o92 91:t173 93:s131o03o10o17o25o33o41o50 95:o05o12o19o27o36 97:o02o09o18o28 99:o06",
"13:o63s40o31 17:t48 20:t49o29 23:o04o02 26:o171o117s60 28:t136 30:o40o22 32:t31o20 35:s16t13 38:o04 42:o02 46:o29 50:o48 55:o22 60:o40 81:o02o09o16o24o32o40o48o56o64o72o80o88o96 83:o04o11o18o26o34o42o50o58o66o74o84o93 85:o01o07o14o21o29o37o45o53o61o69o78o99 87:o03o10o17o25o33o41o49o57o65o73o86 89:o05o12o19o27o35o43o51o59o67o76o91 91:o02o08o15o22o30o38o46o54o62o70o82 93:s220s217o04o11o18o26o34o42o50o58o66o79 94:o141 95:o01o07o14o21o29o37o45o53o61o72o97 97:o03o10o17o25o33o41o49o57o68o88 99:o05o12o19o27o35o43o51o60o77 101:o163o02o08o15o22o30o38o46o55o70 103:t113o04o11o18o26o34o42o52o84 104:t157 105:t110o108o01o07o14o21o29o38o49 106:o166o154o132o124o122o03o10o17 108:o05o13o23o34 110:o02o09o19o28"
];

// ---------- styling ----------
// design coordinates are in reference pixels (4212 x 1686); the figure fills the visible window
const REF_W = 4212, REF_H = 1686;
const vw = Math.min(window.innerWidth || REF_W, document.documentElement.clientWidth || REF_W) || REF_W;
const vh = Math.min(window.innerHeight || REF_H, document.documentElement.clientHeight || REF_H) || REF_H;
const W = Math.min(REF_W, vw), H = Math.min(REF_H, vh);
const chartDiv = document.getElementById('chart');
chartDiv.style.width = W + 'px'; chartDiv.style.height = H + 'px';

const FONT = 'Liberation Sans, Arial, Helvetica, sans-serif';
const chrColors = ['#440154', '#21908C'];
const symbols = {o:'circle-open', t:'triangle-up-open', s:'square-open'};
const xRange = [-76, 1640];
const panelPx = [{l: 117, r: 1833}, {l: 2226, r: 3946}];   // plot-area edges (reference px)
const plotTop = 83, plotBottom = 1575, stripTop = 25;

const offsets = [];
let acc = 0;
chromLengths.forEach(L => { offsets.push(acc); acc += L; });
const tickCenters = chromLengths.map((L, i) => offsets[i] + L / 2);

function buildTraces(snps, xa, ya) {
  const buckets = {};
  snps.forEach((str, i) => {
    const ck = i % 2;
    str.trim().split(/\s+/).forEach(group => {
      const parts = group.split(':');
      const x = offsets[i] + Number(parts[0]);
      const re = /([ots])(\d+)/g; let m;
      while ((m = re.exec(parts[1])) !== null) {
        const key = ck + m[1];
        if (!buckets[key]) buckets[key] = {x: [], y: [], c: ck, s: m[1]};
        buckets[key].x.push(x);
        buckets[key].y.push(Number(m[2]) / 100);
      }
    });
  });
  return Object.keys(buckets).sort().map(k => {
    const b = buckets[k];
    return {type: 'scatter', mode: 'markers', x: b.x, y: b.y, xaxis: xa, yaxis: ya,
      showlegend: false, hoverinfo: 'skip', name: modelNames[b.s],
      marker: {symbol: symbols[b.s], color: chrColors[b.c], size: 11.5, opacity: 0.72, line: {width: 2.8}}};
  });
}

const data = [].concat(buildTraces(snpA, 'x', 'y'), buildTraces(snpB, 'x2', 'y2'));

const px2x = v => v / REF_W, px2y = v => 1 - v / REF_H;
const yDomain = [px2y(plotBottom), px2y(plotTop)];
const xAxisBase = {range: xRange, tickvals: tickCenters, ticktext: chromosomes, showgrid: false, zeroline: false,
  showline: true, linecolor: '#333333', linewidth: 3, mirror: true, ticks: 'outside', ticklen: 9, tickwidth: 3,
  tickcolor: '#333333', tickfont: {family: FONT, size: 30, color: '#4D4D4D'}, automargin: false,
  title: {text: 'Chromosome', font: {family: FONT, size: 43, color: '#000'}, standoff: 8}};
const yAxisBase = {domain: yDomain, tickvals: [0, 1, 2, 3], showgrid: false, zeroline: false, showline: true,
  linecolor: '#333333', linewidth: 3, mirror: true, ticks: 'outside', ticklen: 9, tickwidth: 3, tickcolor: '#333333',
  tickfont: {family: FONT, size: 30, color: '#4D4D4D'}, automargin: false,
  title: {text: '\u2212log<sub>10</sub>(p)', font: {family: FONT, size: 43, color: '#000'}, standoff: 18}};

const stripY = [px2y(plotTop), px2y(stripTop)];
function panelShapes(xr, yr, thr) {
  return [
    {type: 'rect', xref: xr + ' domain', yref: 'paper', x0: 0, x1: 1, y0: stripY[0], y1: stripY[1],
      fillcolor: '#D9D9D9', line: {color: '#333333', width: 3}, layer: 'above'},
    {type: 'line', xref: xr + ' domain', yref: yr, x0: 0, x1: 1, y0: thr, y1: thr,
      line: {color: '#9E9E9E', width: 3, dash: '14px,10px'}, layer: 'below'}
  ];
}
function panelAnnotations(xr, letter) {
  return [
    {xref: xr + ' domain', yref: 'paper', x: 0.5, y: (stripY[0] + stripY[1]) / 2, text: stripLabel, showarrow: false,
      font: {family: FONT, size: 35, color: '#1A1A1A'}, xanchor: 'center', yanchor: 'middle'},
    {xref: xr + ' domain', yref: 'paper', x: 0.504, y: px2y(118), text: '<b>' + letter + '</b>', showarrow: false,
      font: {family: FONT, size: 64, color: '#000'}, xanchor: 'center', yanchor: 'middle'}
  ];
}

// legend ("model") drawn beside each panel: title, key symbols and labels
const legendRowsPx = [813, 862, 911];
function legendParts(panel) {
  const right = panelPx[panel].r;
  const titleX = right + 48, symX = right + 72, labX = right + 118;
  const ann = [{xref: 'paper', yref: 'paper', x: px2x(titleX), y: px2y(747), text: legendTitle, showarrow: false,
    xanchor: 'left', yanchor: 'middle', borderpad: 0, font: {family: FONT, size: 42, color: '#000'}}];
  const shp = [];
  const r = 5.5, st = {color: '#4D4D4D', width: 2.2};
  modelKeys.forEach((k, j) => {
    const cy = legendRowsPx[j];
    ann.push({xref: 'paper', yref: 'paper', x: px2x(labX), y: px2y(cy), text: modelNames[k], showarrow: false,
      xanchor: 'left', yanchor: 'middle', borderpad: 0, font: {family: FONT, size: 33, color: '#1A1A1A'}});
    const sx = r * REF_W / W;  // keep key symbols round if the window is narrower
    if (k === 'o') {
      shp.push({type: 'circle', xref: 'paper', yref: 'paper', x0: px2x(symX - sx), x1: px2x(symX + sx),
        y0: px2y(cy + r), y1: px2y(cy - r), line: st});
    } else if (k === 's') {
      shp.push({type: 'rect', xref: 'paper', yref: 'paper', x0: px2x(symX - sx), x1: px2x(symX + sx),
        y0: px2y(cy + r), y1: px2y(cy - r), line: st});
    } else {
      const p = 'M' + px2x(symX - sx - 1) + ',' + px2y(cy + r) + ' L' + px2x(symX + sx + 1) + ',' + px2y(cy + r) +
        ' L' + px2x(symX) + ',' + px2y(cy - r - 1) + ' Z';
      shp.push({type: 'path', xref: 'paper', yref: 'paper', path: p, line: st});
    }
  });
  return {ann: ann, shp: shp};
}
const lgA = legendParts(0), lgB = legendParts(1);

const layout = {
  width: W, height: H, margin: {l: 0, r: 0, t: 0, b: 0},
  paper_bgcolor: '#FFFFFF', plot_bgcolor: '#FFFFFF', font: {family: FONT},
  showlegend: false,
  xaxis: Object.assign({}, xAxisBase, {domain: [px2x(panelPx[0].l), px2x(panelPx[0].r)], anchor: 'y'}),
  yaxis: Object.assign({}, yAxisBase, {range: [-0.18, 3.83], anchor: 'x'}),
  xaxis2: Object.assign({}, xAxisBase, {domain: [px2x(panelPx[1].l), px2x(panelPx[1].r)], anchor: 'y2'}),
  yaxis2: Object.assign({}, yAxisBase, {range: [-0.167, 3.5], anchor: 'x2'}),
  shapes: panelShapes('x', 'y', thresholdA).concat(panelShapes('x2', 'y2', thresholdB), lgA.shp, lgB.shp),
  annotations: panelAnnotations('x', panelTitles[0]).concat(panelAnnotations('x2', panelTitles[1]), lgA.ann, lgB.ann)
};

Plotly.newPlot('chart', data, layout, {staticPlot: true, displayModeBar: false});
</script>
</body></html>
